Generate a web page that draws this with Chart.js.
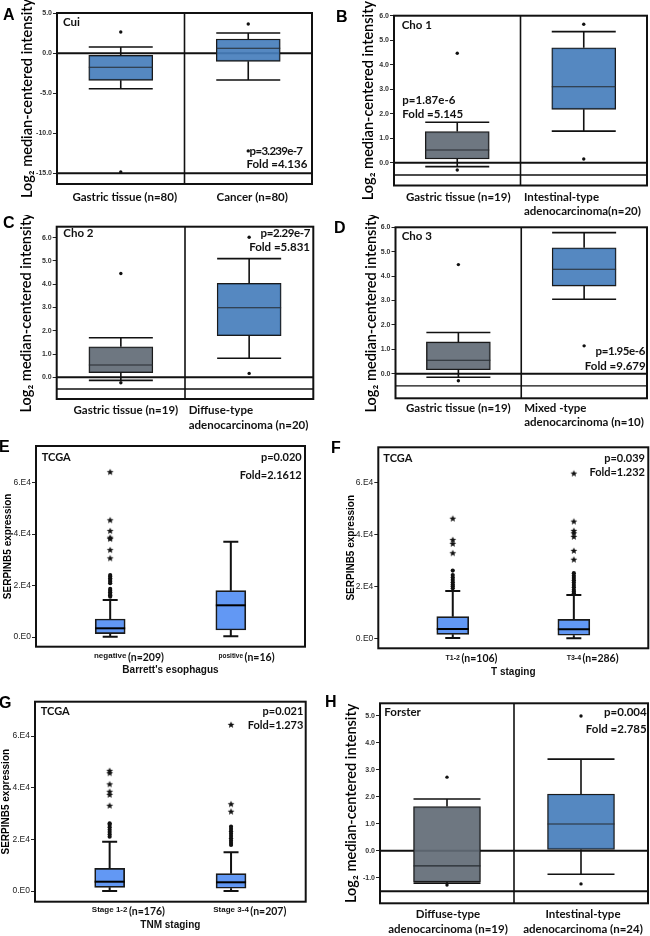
<!DOCTYPE html>
<html>
<head>
<meta charset="utf-8">
<script src="https://cdn.jsdelivr.net/npm/chart.js@4.4.1/dist/chart.umd.min.js"></script>
<style>
body { margin: 0; background: #fff; }
#fig { position: relative; width: 650px; height: 936px; overflow: hidden; background: #fff; }
canvas { position: absolute; }
.pl { position: absolute; font: bold 16px "Liberation Sans", Arial, sans-serif; line-height: 16px; color: #000; }
</style>
</head>
<body>
<div id="fig">
  <canvas id="cA"></canvas><canvas id="cB"></canvas>
  <canvas id="cC"></canvas><canvas id="cD"></canvas>
  <canvas id="cE"></canvas><canvas id="cF"></canvas>
  <canvas id="cG"></canvas><canvas id="cH"></canvas>
  <div class="pl" style="left:3px;top:7px">A</div>
  <div class="pl" style="left:336px;top:9px">B</div>
  <div class="pl" style="left:3px;top:215px">C</div>
  <div class="pl" style="left:334px;top:220px">D</div>
  <div class="pl" style="left:-1px;top:439px">E</div>
  <div class="pl" style="left:331px;top:440px">F</div>
  <div class="pl" style="left:-1px;top:695px">G</div>
  <div class="pl" style="left:325px;top:694px">H</div>
</div>
<script>
// ---- A: Cui ----
var catsA = ['Gastric tissue (n=80)', 'Cancer (n=80)'];
var q1A = [-3.38, -1.0];
var medA = [-1.75, 0.63];
var q3A = [-0.25, 1.79];
var loA = [-4.43, -3.34];
var hiA = [0.79, 2.54];
var outA = [[2.66, -14.84], [3.66, -12.2]];
var ticksA = [5, 0, -5, -10, -15];
var tickLabA = ['5.0', '0.0', '-5.0', '-10.0', '-15.0'];
var refA = [0, -15];

// ---- B: Cho 1 ----
var catsB = ['Gastric tissue (n=19)', ['Intestinal-type', 'adenocarcinoma(n=20)']];
var q1B = [0.15, 2.18];
var medB = [0.52, 3.1];
var q3B = [1.27, 4.69];
var loB = [-0.16, 1.29];
var hiB = [1.65, 5.35];
var outB = [[4.47, -0.3], [5.65, 0.15]];

// ---- C: Cho 2 ----
var catsC = ['Gastric tissue (n=19)', ['Diffuse-type', 'adenocarcinoma (n=20)']];
var q1C = [0.2, 1.79];
var medC = [0.53, 2.99];
var q3C = [1.31, 4.04];
var loC = [-0.13, 0.82];
var hiC = [1.7, 5.1];
var outC = [[4.46, -0.23], [6.02, 0.17]];

// ---- D: Cho 3 ----
var catsD = ['Gastric tissue (n=19)', ['Mixed -type', 'adenocarcinoma (n=10)']];
var q1D = [0.16, 3.59];
var medD = [0.55, 4.28];
var q3D = [1.3, 5.16];
var loD = [-0.15, 3.05];
var hiD = [1.69, 5.78];
var outD = [[4.47, -0.29], [1.14]];

var ticksCho = [0, 1, 2, 3, 4, 5, 6];
var tickLabCho = ['0.0', '1.0', '2.0', '3.0', '4.0', '5.0', '6.0'];
var refCho = [0, -0.5];

// ---- H: Forster ----
var catsH = [['Diffuse-type', 'adenocarcinoma (n=19)'], ['Intestinal-type', 'adenocarcinoma (n=24)']];
var q1H = [-1.16, 0.05];
var medH = [-0.56, 0.99];
var q3H = [1.64, 2.1];
var loH = [-1.2, -0.87];
var hiH = [1.92, 3.4];
var outH = [[2.73, -1.27], [5.0, -1.23]];
var ticksH = [-1, 0, 1, 2, 3, 4, 5];
var tickLabH = ['-1.0', '0.0', '1.0', '2.0', '3.0', '4.0', '5.0'];
var refH = [0, -1.5];

// ---- E: TCGA Barrett's ----
var catsE = [['negative', '(n=209)'], ['positive', '(n=16)']];
var q1E = [1280, 2720];
var medE = [3380, 12330];
var q3E = [7000, 18010];
var loE = [120, 270];
var hiE = [14390, 37060];
var dotsE = [[15700, 16200, 16700, 17400, 18000, 18700, 20900, 21500, 22200, 22800, 23500, 24100], []];
var starsE = [[30600, 33800, 38100, 38600, 41200, 45400, 64100], []];

// ---- F: TCGA T staging ----
var catsF = [['T1-2', '(n=106)'], ['T3-4', '(n=286)']];
var q1F = [1540, 1160];
var medF = [3590, 3470];
var q3F = [8330, 7330];
var loF = [110, 0];
var hiF = [18240, 16700];
var dotsF = [[19300, 20100, 20700, 21600, 22500, 23400, 24400, 26100],
             [17400, 18000, 18700, 19700, 20600, 21500, 22400, 23300, 24100, 25100]];
var starsF = [[32800, 36400, 37900, 46100], [30300, 33700, 39100, 40500, 41400, 45000, 63500]];

// ---- G: TCGA TNM staging ----
var catsG = [['Stage 1-2', '(n=176)'], ['Stage 3-4', '(n=207)']];
var q1G = [1430, 1050];
var medG = [3600, 3370];
var q3G = [8790, 6700];
var loG = [0, 0];
var hiG = [19080, 14980];
var dotsG = [[21000, 21900, 22800, 23700, 24700, 25600, 26200],
             [17800, 18600, 19500, 20400, 21300, 22200, 23100, 24000, 24900]];
var starsG = [[33000, 37200, 38400, 41300, 45600, 46500], [30700, 33600, 64300]];

var ticksTcga = [0, 20000, 40000, 60000];
var tickLabTcga = ['0.E0', '2.E4', '4.E4', '6.E4'];

var BLUE = 'rgba(70,126,188,0.92)';
var GREY = 'rgba(98,107,118,0.92)';
var TBLUE = 'rgb(98,152,244)';
var LOG2 = 'Log\u2082 median-centered intensity';

function starImg(r) {
  var c = document.createElement('canvas');
  c.width = c.height = Math.ceil(r * 2 + 2);
  var g = c.getContext('2d');
  g.fillStyle = '#111';
  g.beginPath();
  for (var k = 0; k < 10; k++) {
    var a = -Math.PI / 2 + k * Math.PI / 5;
    var rr = k % 2 ? r * 0.45 : r;
    g.lineTo(c.width / 2 + rr * Math.cos(a), c.height / 2 + rr * Math.sin(a));
  }
  g.closePath();
  g.fill();
  return c;
}
var STAR = starImg(3.6);

function pts(groups) {
  var r = [];
  groups.forEach(function (g, i) {
    g.forEach(function (v) { r.push({x: i, y: v}); });
  });
  return r;
}

function makePanel(p) {
  var cv = document.getElementById('c' + p.id);
  var cx = p.canvas[0], cy = p.canvas[1], cw = p.canvas[2], ch = p.canvas[3];
  cv.width = cw; cv.height = ch;
  cv.style.left = cx + 'px'; cv.style.top = cy + 'px';
  var yw = p.area[0] - cx, padTop = p.area[1] - cy;
  var padRight = cx + cw - p.area[2], xh = cy + ch - p.area[3];
  var onco = p.style === 'onco';

  var datasets = [];
  if (onco) {
    datasets.push({type: 'scatter', data: pts(p.out), pointRadius: 1.7, pointStyle: 'circle',
      backgroundColor: '#111', borderWidth: 0});
  } else {
    datasets.push({type: 'scatter', data: pts(p.stars), pointStyle: STAR, pointRadius: 4});
    datasets.push({type: 'scatter', data: pts(p.dots), pointRadius: 2.1, pointStyle: 'circle',
      backgroundColor: '#111', borderWidth: 0});
  }
  datasets.push({
    type: 'bar',
    data: p.q1.map(function (v, i) { return {x: i, y: [v, p.q3[i]]}; }),
    backgroundColor: p.fill,
    borderColor: '#1a1a1a',
    borderWidth: onco ? 1.3 : 1.7,
    borderSkipped: false,
    barThickness: p.boxW
  });

  var decor = {
    id: 'decor' + p.id,
    beforeDatasetsDraw: function (chart) {
      var ctx = chart.ctx, a = chart.chartArea, ys = chart.scales.y;
      ctx.save();
      ctx.strokeStyle = '#111';
      (p.refs || []).forEach(function (v, k) {
        var y = ys.getPixelForValue(v);
        ctx.lineWidth = k === 0 || p.id === 'A' || p.id === 'H' ? 2 : 1.4;
        ctx.beginPath(); ctx.moveTo(a.left, y); ctx.lineTo(a.right, y); ctx.stroke();
      });
      ctx.restore();
    },
    afterDatasetsDraw: function (chart) {
      var ctx = chart.ctx, a = chart.chartArea, xs = chart.scales.x, ys = chart.scales.y;
      ctx.save();
      p.q1.forEach(function (v, i) {
        var x = xs.getPixelForValue(i), hw = p.capW / 2;
        var yh = ys.getPixelForValue(p.hi[i]), yl = ys.getPixelForValue(p.lo[i]);
        ctx.strokeStyle = '#111';
        ctx.lineWidth = onco ? 1.6 : 2;
        ctx.beginPath();
        ctx.moveTo(x, ys.getPixelForValue(p.q3[i])); ctx.lineTo(x, yh);
        ctx.moveTo(x, ys.getPixelForValue(v)); ctx.lineTo(x, yl);
        ctx.moveTo(x - hw, yh); ctx.lineTo(x + hw, yh);
        ctx.moveTo(x - hw, yl); ctx.lineTo(x + hw, yl);
        ctx.stroke();
        var ym = ys.getPixelForValue(p.med[i]);
        ctx.strokeStyle = onco ? '#262b31' : '#000';
        ctx.lineWidth = onco ? 1.1 : 2;
        ctx.beginPath(); ctx.moveTo(x - p.boxW / 2, ym); ctx.lineTo(x + p.boxW / 2, ym); ctx.stroke();
      });
      ctx.strokeStyle = '#111';
      ctx.lineWidth = 2;
      ctx.strokeRect(a.left, a.top, a.right - a.left, a.bottom - a.top);
      if (onco) {
        var xd = xs.getPixelForValue(0.5);
        ctx.lineWidth = 1.6;
        ctx.beginPath(); ctx.moveTo(xd, a.top); ctx.lineTo(xd, a.bottom); ctx.stroke();
      }
      ctx.restore();
    },
    afterDraw: function (chart) {
      var ctx = chart.ctx, a = chart.chartArea, xs = chart.scales.x;
      ctx.save();
      ctx.fillStyle = '#111';
      ctx.textBaseline = 'middle';
      // notes inside the plot
      ctx.font = p.noteFont;
      p.notes.forEach(function (n) {
        ctx.letterSpacing = n[4] || '0px';
        ctx.textAlign = n[1] === 'l' ? 'left' : 'right';
        var x = n[1] === 'l' ? a.left + n[2] : a.right - n[2];
        ctx.fillText(n[0], x, a.top + n[3]);
      });
      ctx.letterSpacing = '0px';
      // category labels
      p.cats.forEach(function (cat, i) {
        if (onco) {
          var lines = Array.isArray(cat) ? cat : [cat];
          var al = p.catAlign[i];
          var x = al === 'left' ? xs.getPixelForValue(0.5) + p.catDx[i] : xs.getPixelForValue(i) + p.catDx[i];
          ctx.font = 'bold 11.5px Lato, sans-serif';
          ctx.textAlign = al;
          lines.forEach(function (t, k) {
            ctx.fillText(t, x, a.bottom + p.catY[0] + k * p.catY[1]);
          });
        } else {
          var xc = xs.getPixelForValue(i);
          ctx.font = 'bold ' + p.smallSize[i] + 'px "Liberation Sans", Arial, sans-serif';
          var w = ctx.measureText(cat[0]).width;
          ctx.textAlign = 'center';
          ctx.fillText(cat[0], xc, a.bottom + p.catY[0] - 0.5);
          ctx.font = 'bold 10.5px Lato, sans-serif';
          ctx.textAlign = 'left';
          ctx.fillText(cat[1], xc + w / 2 + 1.5, a.bottom + p.catY[0] + 0.5);
        }
      });
      ctx.restore();
    }
  };

  new Chart(cv, {
    type: 'bar',
    data: {datasets: datasets},
    options: {
      responsive: false,
      animation: false,
      events: [],
      layout: {padding: {left: 0, top: padTop, right: padRight, bottom: 0}, autoPadding: false},
      plugins: {legend: {display: false}, tooltip: {enabled: false}},
      scales: {
        x: {
          type: 'linear',
          min: p.xMin, max: p.xMax,
          afterFit: function (s) { s.height = xh; },
          afterBuildTicks: function (s) { s.ticks = []; },
          ticks: {display: false},
          grid: {display: false},
          border: {display: false},
          title: p.xTitle ? {
            display: true, text: p.xTitle, color: '#111',
            font: {family: '"Liberation Sans", Arial, sans-serif', size: 10, weight: 'bold', lineHeight: 1},
            padding: {top: 0, bottom: xh - 5 - 24}
          } : {display: false}
        },
        y: {
          type: 'linear',
          min: p.yMin, max: p.yMax,
          afterFit: function (s) { s.width = yw; },
          afterBuildTicks: function (s) { s.ticks = p.ticks.map(function (v) { return {value: v}; }); },
          ticks: {
            autoSkip: false,
            padding: 1,
            color: onco ? '#333' : '#222',
            font: onco ? {family: '"Liberation Sans", Arial, sans-serif', size: 7, weight: 'bold'}
                       : {family: '"Liberation Sans", Arial, sans-serif', size: 8.5},
            callback: function (v, idx) { return p.tickLabels[idx]; }
          },
          grid: {drawOnChartArea: false, drawTicks: true, tickLength: 4, color: '#222', lineWidth: 1},
          border: {display: false},
          title: {
            display: true, text: p.yTitle, color: '#000',
            font: onco ? {family: 'Lato, sans-serif', size: 14.5, weight: 600, lineHeight: 1}
                       : {family: '"Liberation Sans", Arial, sans-serif', size: 10, weight: 'bold', lineHeight: 1},
            padding: {top: p.titleX - cx - (onco ? 7.25 : 5), bottom: 0}
          }
        }
      }
    },
    plugins: [decor]
  });
}

var oncoNote = 'bold 11.5px Lato, sans-serif';
var tcgaNote = 'bold 11px Lato, sans-serif';

makePanel({id: 'A', style: 'onco', canvas: [0, 0, 325, 215], area: [57, 13, 312, 184],
  yMin: -16.34, yMax: 5.04, xMin: -0.5, xMax: 1.5, ticks: ticksA, tickLabels: tickLabA, refs: refA,
  q1: q1A, med: medA, q3: q3A, lo: loA, hi: hiA, out: outA, fill: [BLUE, BLUE], boxW: 64, capW: 64,
  yTitle: LOG2, titleX: 27.5, cats: catsA, catAlign: ['center', 'center'], catDx: [4, 4], catY: [13, 14.5],
  noteFont: oncoNote,
  notes: [['Cui', 'l', 6, 9], ['p=3.239e-7', 'r', 9.7, 138, '-0.7px'], ['Fold =4.136', 'r', 4.7, 151.3]]});

makePanel({id: 'B', style: 'onco', canvas: [330, 0, 320, 220], area: [394, 15.7, 647, 185.5],
  yMin: -0.93, yMax: 6.0, xMin: -0.5, xMax: 1.5, ticks: ticksCho, tickLabels: tickLabCho, refs: refCho,
  q1: q1B, med: medB, q3: q3B, lo: loB, hi: hiB, out: outB, fill: [GREY, BLUE], boxW: 64, capW: 64,
  yTitle: LOG2, titleX: 368, cats: catsB, catAlign: ['center', 'left'], catDx: [1, 3.5], catY: [11.5, 14.5],
  noteFont: oncoNote,
  notes: [['Cho 1', 'l', 7.7, 9.3], ['p=1.87e-6', 'l', 8.3, 84.3], ['Fold =5.145', 'l', 8.3, 99]]});

makePanel({id: 'C', style: 'onco', canvas: [0, 215, 325, 220], area: [56.7, 226.7, 313.3, 399],
  yMin: -0.93, yMax: 6.47, xMin: -0.5, xMax: 1.5, ticks: ticksCho, tickLabels: tickLabCho, refs: refCho,
  q1: q1C, med: medC, q3: q3C, lo: loC, hi: hiC, out: outC, fill: [GREY, BLUE], boxW: 64, capW: 64,
  yTitle: LOG2, titleX: 26, cats: catsC, catAlign: ['center', 'left'], catDx: [5, 3.7], catY: [11, 15],
  noteFont: oncoNote,
  notes: [['Cho 2', 'l', 6.6, 6.6], ['p=2.29e-7', 'r', 3.3, 6.6, '-0.4px'], ['Fold =5.831', 'r', 3.3, 20.6]]});

makePanel({id: 'D', style: 'onco', canvas: [330, 215, 320, 220], area: [395.5, 227.3, 647, 398.3],
  yMin: -1.01, yMax: 6.0, xMin: -0.5, xMax: 1.5, ticks: ticksCho, tickLabels: tickLabCho, refs: refCho,
  q1: q1D, med: medD, q3: q3D, lo: loD, hi: hiD, out: outD, fill: [GREY, BLUE], boxW: 64, capW: 64,
  yTitle: LOG2, titleX: 371, cats: catsD, catAlign: ['center', 'left'], catDx: [0, 3], catY: [10, 14.4],
  noteFont: oncoNote,
  notes: [['Cho 3', 'l', 6.2, 9.4], ['p=1.95e-6', 'r', 2, 124.4, '-0.4px'], ['Fold =9.679', 'r', 1.3, 138.7]]});

makePanel({id: 'E', style: 'tcga', canvas: [0, 435, 325, 250], area: [36, 446, 305, 646.7],
  yMin: -3772, yMax: 74280, xMin: -0.615, xMax: 1.615, ticks: ticksTcga, tickLabels: tickLabTcga,
  q1: q1E, med: medE, q3: q3E, lo: loE, hi: hiE, dots: dotsE, stars: starsE, fill: [TBLUE, TBLUE],
  boxW: 30, capW: 15, yTitle: 'SERPINB5 expression', titleX: 8.3, xTitle: "Barrett's esophagus",
  cats: catsE, smallSize: [8, 6.5], catY: [10], noteFont: tcgaNote,
  notes: [['TCGA', 'l', 5.7, 11.3], ['p=0.020', 'r', 3.3, 11.3], ['Fold=2.1612', 'r', 3.3, 29]]});

makePanel({id: 'F', style: 'tcga', canvas: [330, 435, 320, 250], area: [378.3, 447.3, 648.3, 648.3],
  yMin: -3856, yMax: 73650, xMin: -0.615, xMax: 1.615, ticks: ticksTcga, tickLabels: tickLabTcga,
  q1: q1F, med: medF, q3: q3F, lo: loF, hi: hiF, dots: dotsF, stars: starsF, fill: [TBLUE, TBLUE],
  boxW: 32, capW: 15, yTitle: 'SERPINB5 expression', titleX: 351.5, xTitle: 'T staging',
  cats: catsF, smallSize: [7, 7], catY: [10], noteFont: tcgaNote,
  notes: [['TCGA', 'l', 5, 11], ['p=0.039', 'r', 3.3, 11], ['Fold=1.232', 'r', 3.3, 25]]});

makePanel({id: 'G', style: 'tcga', canvas: [0, 690, 325, 246], area: [35, 701.7, 305.7, 901.7],
  yMin: -4140, yMax: 73280, xMin: -0.615, xMax: 1.615, ticks: ticksTcga, tickLabels: tickLabTcga,
  q1: q1G, med: medG, q3: q3G, lo: loG, hi: hiG, dots: dotsG, stars: starsG, fill: [TBLUE, TBLUE],
  boxW: 30, capW: 15, yTitle: 'SERPINB5 expression', titleX: 6.7, xTitle: 'TNM staging',
  cats: catsG, smallSize: [8, 8], catY: [9], noteFont: tcgaNote,
  notes: [['TCGA', 'l', 5.7, 10], ['p=0.021', 'r', 2.4, 10], ['Fold=1.273', 'r', 2.4, 23.6]]});

makePanel({id: 'H', style: 'onco', canvas: [330, 690, 320, 246], area: [380, 703.3, 648, 903.3],
  yMin: -1.95, yMax: 5.47, xMin: -0.5, xMax: 1.5, ticks: ticksH, tickLabels: tickLabH, refs: refH,
  q1: q1H, med: medH, q3: q3H, lo: loH, hi: hiH, out: outH, fill: [GREY, BLUE], boxW: 67, capW: 67,
  yTitle: LOG2, titleX: 351.7, cats: catsH, catAlign: ['center', 'center'], catDx: [1, 2], catY: [11, 14.7],
  noteFont: oncoNote,
  notes: [['Forster', 'l', 4.3, 9], ['p=0.004', 'r', 1.3, 9], ['Fold =2.785', 'r', 1.3, 25.7]]});
</script>
</body>
</html>
